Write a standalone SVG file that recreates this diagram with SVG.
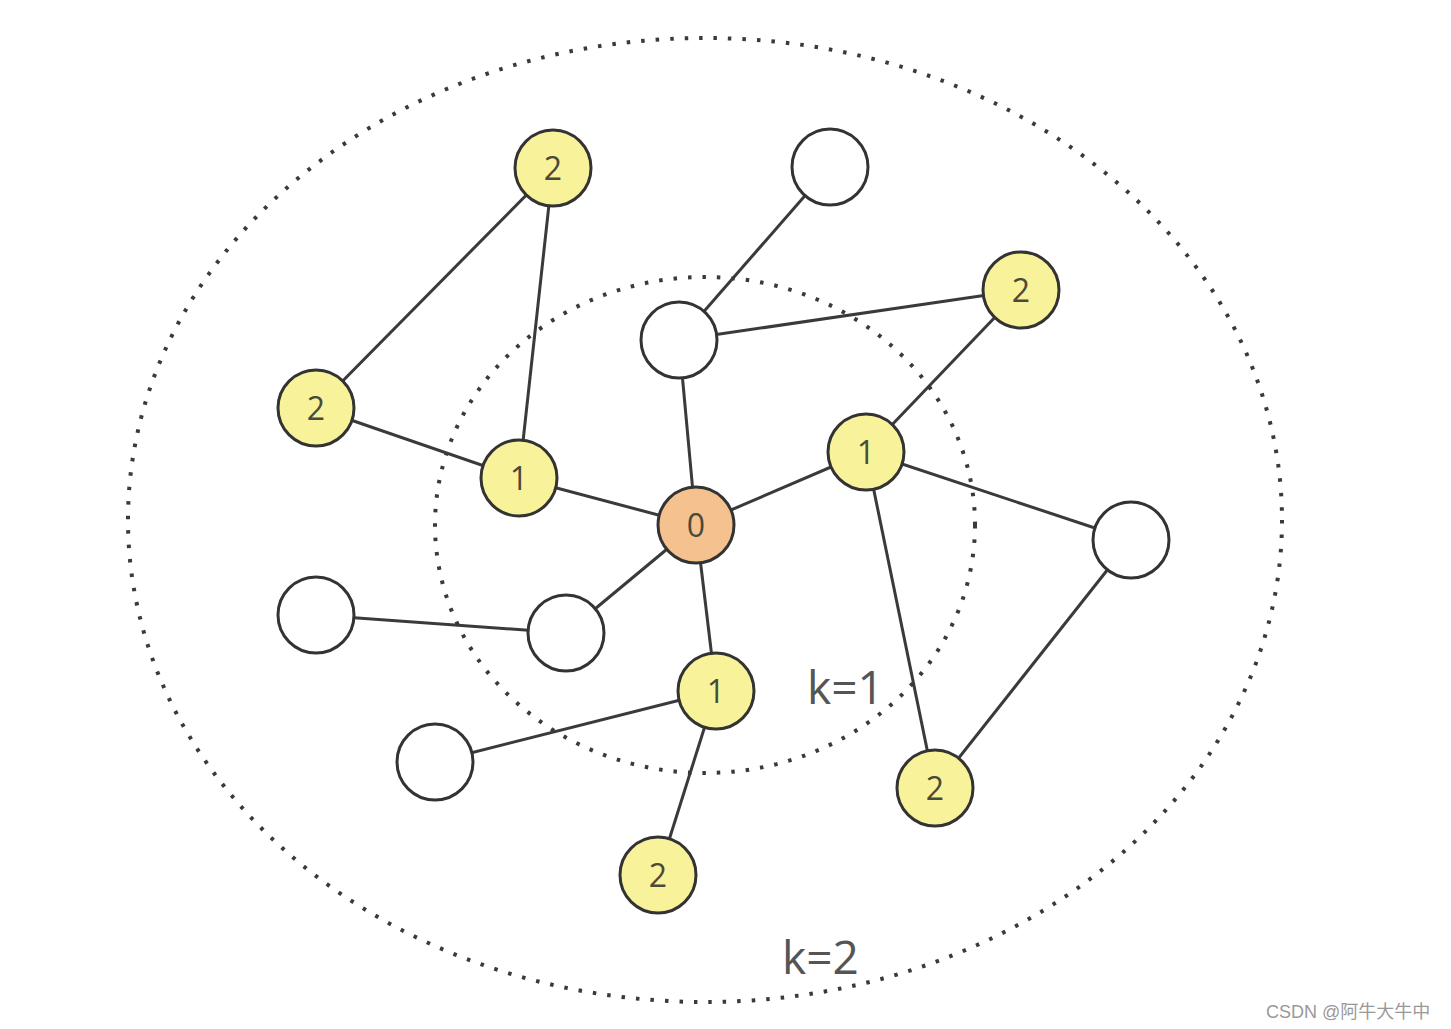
<svg xmlns="http://www.w3.org/2000/svg" width="1451" height="1029" viewBox="0 0 1451 1029">
<style>
.ring{fill:none;stroke:#3a3a3a;stroke-width:4;stroke-dasharray:3.5 11}
.e{stroke:#3a3a3a;stroke-width:3;fill:none}
.n circle{stroke:#333;stroke-width:3}
.w{fill:#fff}.y{fill:#f8f39a}.o{fill:#f5c28f}
.t{font-family:"Open Sans","DejaVu Sans",sans-serif;font-size:32px;fill:#4a4a3a;text-anchor:middle}
.k{font-family:"Open Sans","DejaVu Sans",sans-serif;font-size:46px;fill:#555}
</style>
<rect width="1451" height="1029" fill="#fff"/>
<ellipse class="ring" cx="705" cy="525" rx="270" ry="248"/>
<ellipse class="ring" cx="705" cy="520" rx="577" ry="482"/>
<g id="connectors">
<line class="e" x1="553" y1="168" x2="316" y2="408"/>
<line class="e" x1="553" y1="168" x2="519" y2="478"/>
<line class="e" x1="316" y1="408" x2="519" y2="478"/>
<line class="e" x1="519" y1="478" x2="696" y2="525"/>
<line class="e" x1="830" y1="167" x2="679" y2="340"/>
<line class="e" x1="679" y1="340" x2="1021" y2="290"/>
<line class="e" x1="679" y1="340" x2="696" y2="525"/>
<line class="e" x1="1021" y1="290" x2="866" y2="452"/>
<line class="e" x1="866" y1="452" x2="696" y2="525"/>
<line class="e" x1="866" y1="452" x2="1131" y2="540"/>
<line class="e" x1="866" y1="452" x2="935" y2="788"/>
<line class="e" x1="1131" y1="540" x2="935" y2="788"/>
<line class="e" x1="696" y1="525" x2="566" y2="633"/>
<line class="e" x1="316" y1="615" x2="566" y2="633"/>
<line class="e" x1="696" y1="525" x2="716" y2="691"/>
<line class="e" x1="716" y1="691" x2="435" y2="762"/>
<line class="e" x1="716" y1="691" x2="658" y2="875"/>
</g>
<g id="n1" class="n"><circle class="y" cx="553" cy="168" r="38"/><text class="t" x="553" y="180">2</text></g>
<g id="n2" class="n"><circle class="w" cx="830" cy="167" r="38"/></g>
<g id="n3" class="n"><circle class="y" cx="1021" cy="290" r="38"/><text class="t" x="1021" y="302">2</text></g>
<g id="n4" class="n"><circle class="w" cx="679" cy="340" r="38"/></g>
<g id="n5" class="n"><circle class="y" cx="316" cy="408" r="38"/><text class="t" x="316" y="420">2</text></g>
<g id="n6" class="n"><circle class="y" cx="519" cy="478" r="38"/><text class="t" x="519" y="490">1</text></g>
<g id="n7" class="n"><circle class="y" cx="866" cy="452" r="38"/><text class="t" x="866" y="464">1</text></g>
<g id="n0" class="n"><circle class="o" cx="696" cy="525" r="38"/><text class="t" x="696" y="537">0</text></g>
<g id="n8" class="n"><circle class="w" cx="1131" cy="540" r="38"/></g>
<g id="n9" class="n"><circle class="w" cx="316" cy="615" r="38"/></g>
<g id="n10" class="n"><circle class="w" cx="566" cy="633" r="38"/></g>
<g id="n11" class="n"><circle class="y" cx="716" cy="691" r="38"/><text class="t" x="716" y="703">1</text></g>
<g id="n12" class="n"><circle class="w" cx="435" cy="762" r="38"/></g>
<g id="n13" class="n"><circle class="y" cx="935" cy="788" r="38"/><text class="t" x="935" y="800">2</text></g>
<g id="n14" class="n"><circle class="y" cx="658" cy="875" r="38"/><text class="t" x="658" y="887">2</text></g>
<text class="k" x="807" y="704">k=1</text>
<text class="k" x="782" y="974">k=2</text>
<text x="1266" y="1018" font-family="'Liberation Sans','Noto Sans CJK SC',sans-serif" font-size="18" fill="#999">CSDN @阿牛大牛中</text>
</svg>
